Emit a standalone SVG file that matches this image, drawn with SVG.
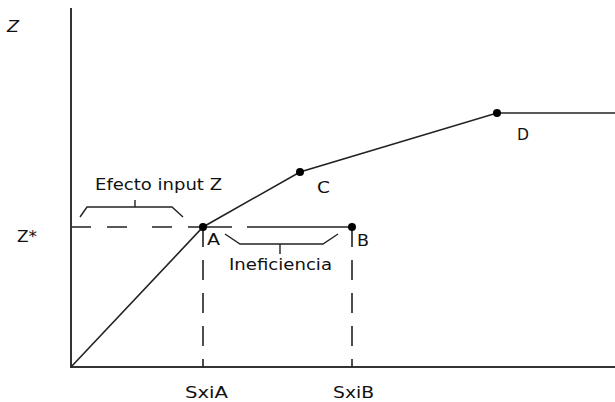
<svg xmlns="http://www.w3.org/2000/svg" width="615" height="402" viewBox="0 0 615 402">
<style>
text{font-family:"DejaVu Sans","Liberation Sans",Arial,sans-serif;font-size:15px;fill:#111}
.ax{stroke:#333;stroke-width:2;fill:none}
.ln{stroke:#222;stroke-width:1.6;fill:none}
.br{stroke:#222;stroke-width:1.4;fill:none}
.dv{stroke:#222;stroke-width:1.6;fill:none;stroke-dasharray:20 13}
.pt{fill:#000}
</style>
<rect width="615" height="402" fill="#fff"/>
<g id="axes">
<line class="ax" x1="71" y1="8" x2="71" y2="367"/>
<line class="ax" x1="70" y1="367" x2="615" y2="367"/>
<text x="7" y="32" font-style="italic" textLength="12" lengthAdjust="spacingAndGlyphs">Z</text>
<text x="17" y="242" textLength="20" lengthAdjust="spacingAndGlyphs">Z*</text>
<text x="185" y="398" textLength="43" lengthAdjust="spacingAndGlyphs">SxiA</text>
<text x="333" y="398" textLength="41" lengthAdjust="spacingAndGlyphs">SxiB</text>
</g>
<g id="connectors">
<line class="ln" x1="72" y1="227" x2="352" y2="227" stroke-dasharray="19 16 20 25 20 16 44 15 106"/>
<line class="dv" x1="203" y1="227" x2="203" y2="367"/>
<line class="dv" x1="352" y1="227" x2="352" y2="367"/>
<polyline class="ln" points="71,367 203,227 300,172 497,113 615,113"/>
</g>
<g id="efecto">
<polyline class="br" points="80,217 87,207 172,207 183,217"/>
<line class="br" x1="135" y1="200" x2="135" y2="207"/>
<text x="95" y="190" textLength="127" lengthAdjust="spacingAndGlyphs">Efecto input Z</text>
</g>
<g id="ineficiencia">
<polyline class="br" points="225,234 240,244 323,244 338,234"/>
<line class="br" x1="280" y1="244" x2="280" y2="254"/>
<text x="229" y="270" textLength="103" lengthAdjust="spacingAndGlyphs">Ineficiencia</text>
</g>
<g id="A"><circle class="pt" cx="203" cy="227" r="4"/><text x="207" y="245" textLength="13" lengthAdjust="spacingAndGlyphs">A</text></g>
<g id="B"><circle class="pt" cx="352" cy="227" r="4"/><text x="357" y="246" textLength="12" lengthAdjust="spacingAndGlyphs">B</text></g>
<g id="C"><circle class="pt" cx="300" cy="172" r="4"/><text x="317" y="193" textLength="13" lengthAdjust="spacingAndGlyphs">C</text></g>
<g id="D"><circle class="pt" cx="497" cy="113" r="4"/><text x="517" y="140" textLength="12" lengthAdjust="spacingAndGlyphs">D</text></g>
</svg>
